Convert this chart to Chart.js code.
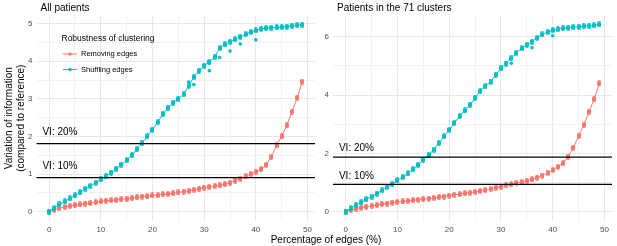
<!DOCTYPE html>
<html>
<head>
<meta charset="utf-8">
<script src="https://cdn.jsdelivr.net/npm/chart.js@4"></script>
<style>
  body { margin: 0; background: #fff; width: 617px; height: 246px; position: relative; overflow: hidden;
         font-family: "Liberation Sans", Arial, sans-serif; }
  #left { position: absolute; left: 0; top: 0; }
  #right { position: absolute; left: 318px; top: 0; }
  #xtitle { position: absolute; left: 0; width: 652px; top: 234px; text-align: center; font-size: 10px; color: #000; }
</style>
</head>
<body>
<canvas id="left" width="320" height="246"></canvas>
<canvas id="right" width="299" height="246"></canvas>
<div id="xtitle">Percentage of edges (%)</div>
<script>
// percentage of edges removed / shuffled
const percent = [0, 1, 2, 3, 4, 5, 6, 7, 8, 9, 10, 11, 12, 13, 14, 15, 16, 17, 18, 19,
  20, 21, 22, 23, 24, 25, 26, 27, 28, 29, 30, 31, 32, 33, 34, 35, 36, 37, 38, 39,
  40, 41, 42, 43, 44, 45, 46, 47, 48, 49];

// All patients
const removingAll = [0, 0.05, 0.09, 0.12, 0.15, 0.17, 0.19, 0.21, 0.23, 0.25,
  0.27, 0.29, 0.30, 0.31, 0.33, 0.34, 0.36, 0.38, 0.40, 0.41,
  0.43, 0.44, 0.46, 0.47, 0.49, 0.51, 0.53, 0.55, 0.58, 0.61,
  0.64, 0.66, 0.68, 0.70, 0.73, 0.77, 0.82, 0.88, 0.94, 1.00,
  1.06, 1.13, 1.24, 1.46, 1.76, 2.00, 2.30, 2.66, 3.03, 3.46];
const shufflingAll = [0, 0.09, 0.19, 0.27, 0.35, 0.43, 0.51, 0.60, 0.68, 0.77,
  0.86, 0.94, 1.04, 1.14, 1.25, 1.37, 1.50, 1.66, 1.83, 2.00,
  2.18, 2.38, 2.60, 2.75, 2.90, 3.00, 3.12, 3.35, 3.58, 3.75,
  3.88, 3.98, 4.12, 4.35, 4.45, 4.52, 4.58, 4.65, 4.72, 4.78,
  4.82, 4.86, 4.88, 4.89, 4.90, 4.91, 4.92, 4.94, 4.96, 4.97];
// a few scattered replicate runs
const shufflingAllExtraX = [27, 28, 31, 33, 35, 37, 40];
const shufflingAllExtraY = [3.45, 3.38, 3.75, 4.10, 4.27, 4.46, 4.57];

// Patients in the 71 clusters
const removingClusters = [0, 0.06, 0.10, 0.14, 0.17, 0.20, 0.23, 0.26, 0.28, 0.31,
  0.33, 0.35, 0.37, 0.39, 0.41, 0.43, 0.45, 0.47, 0.50, 0.52,
  0.55, 0.58, 0.60, 0.63, 0.65, 0.68, 0.71, 0.74, 0.78, 0.82,
  0.86, 0.90, 0.94, 0.98, 1.02, 1.06, 1.11, 1.17, 1.24, 1.33,
  1.43, 1.54, 1.66, 1.89, 2.20, 2.60, 2.97, 3.43, 3.86, 4.40];
const shufflingClusters = [0, 0.12, 0.22, 0.32, 0.42, 0.52, 0.62, 0.73, 0.84, 0.95,
  1.07, 1.19, 1.31, 1.45, 1.60, 1.78, 1.95, 2.12, 2.35, 2.58,
  2.80, 3.04, 3.28, 3.47, 3.66, 3.90, 4.14, 4.30, 4.46, 4.69,
  4.92, 5.08, 5.26, 5.44, 5.60, 5.72, 5.83, 5.96, 6.08, 6.16,
  6.22, 6.26, 6.29, 6.31, 6.33, 6.34, 6.36, 6.37, 6.39, 6.42];
const shufflingClustersExtraX = [32, 36, 40];
const shufflingClustersExtraY = [5.09, 5.62, 6.03];

// reference lines
const thresholdLabels = ["VI: 10%", "VI: 20%"];
const thresholdsAll = [0.905, 1.81];
const thresholdsClusters = [0.935, 1.87];

const xTicks = [0, 10, 20, 30, 40, 50];
const yTicksAll = [0, 1, 2, 3, 4, 5];
const yTicksClusters = [0, 2, 4, 6];

const RED = "#F8766D";
const TEAL = "#00BFC4";
const FONT = "'Liberation Sans', Arial, sans-serif";

// small vertical pill: looks like stacked replicate points
const pill = (color) => {
  const c = document.createElement("canvas");
  c.width = 4; c.height = 6;
  const g = c.getContext("2d");
  g.fillStyle = color;
  g.beginPath();
  g.roundRect(0, 0, 4, 6, 2);
  g.fill();
  return c;
};

const toPoints = (xs, ys) => xs.map((x, i) => ({ x: x, y: ys[i] }));

// minor grid halfway between major ticks
const withMinor = (major) => {
  const out = [];
  const step = major[1] - major[0];
  major.forEach((v, i) => {
    out.push({ value: v, major: true });
    if (i < major.length - 1) out.push({ value: v + step / 2, major: false });
  });
  return out;
};

const makeChart = (id, cfg) => {
  const ctx = document.getElementById(id).getContext("2d");

  const decor = {
    id: "decor",
    afterDatasetsDraw(chart) {
      const c = chart.ctx;
      const xs = chart.scales.x, ys = chart.scales.y;
      const area = chart.chartArea;
      c.save();
      cfg.thresholds.forEach((v, i) => {
        const y = ys.getPixelForValue(v);
        c.strokeStyle = "#000";
        c.lineWidth = 1.2;
        c.beginPath();
        c.moveTo(area.left, y);
        c.lineTo(area.right, y);
        c.stroke();
        c.fillStyle = "#000";
        c.font = "10px " + FONT;
        c.textAlign = "left";
        c.textBaseline = "middle";
        c.fillText(thresholdLabels[i], xs.getPixelForValue(-1.3), ys.getPixelForValue(v + 0.29));
      });
      c.restore();
    },
    afterDraw(chart) {
      const c = chart.ctx;
      const area = chart.chartArea;
      c.save();
      c.fillStyle = "#000";
      c.font = "10px " + FONT;
      c.textAlign = "left";
      c.textBaseline = "alphabetic";
      c.fillText(cfg.title, area.left + 4, 10.5);
      if (cfg.legend) {
        c.font = "8.5px " + FONT;
        c.textBaseline = "middle";
        c.fillText("Robustness of clustering", 61.5, 38.5);
        [["Removing edges", RED, 54], ["Shuffling edges", TEAL, 69.5]].forEach(([label, col, y]) => {
          c.strokeStyle = col;
          c.lineWidth = 1;
          c.beginPath();
          c.moveTo(63, y);
          c.lineTo(77, y);
          c.stroke();
          c.fillStyle = col;
          c.beginPath();
          c.arc(70, y, 1.8, 0, Math.PI * 2);
          c.fill();
          c.fillStyle = "#000";
          c.font = "7.5px " + FONT;
          c.fillText(label, 81, y);
        });
      }
      c.restore();
    }
  };

  const gridOpts = {
    color: (c) => (c.tick && c.tick.major ? "#E8E8E8" : "#F2F2F2"),
    lineWidth: 1,
    drawTicks: false,
  };

  return new Chart(ctx, {
    type: "line",
    data: {
      datasets: [
        {
          label: "Shuffling edges",
          data: toPoints(percent, cfg.shuffling),
          borderColor: TEAL,
          backgroundColor: TEAL,
          borderWidth: 1,
          pointStyle: pill(TEAL),
          pointRadius: 2,
          tension: 0,
        },
        {
          type: "scatter",
          label: "Shuffling extra",
          data: toPoints(cfg.extraX, cfg.extraY),
          backgroundColor: TEAL,
          borderWidth: 0,
          pointStyle: "circle",
          pointRadius: 1.8,
          showLine: false,
        },
        {
          label: "Removing edges",
          data: toPoints(percent, cfg.removing),
          borderColor: RED,
          backgroundColor: RED,
          borderWidth: 1,
          pointStyle: pill(RED),
          pointRadius: 2,
          tension: 0,
        },
      ],
    },
    options: {
      responsive: false,
      animation: false,
      layout: { padding: cfg.padding },
      plugins: { legend: { display: false }, tooltip: { enabled: false } },
      scales: {
        x: {
          type: "linear",
          min: -2.45,
          max: 51.45,
          afterBuildTicks: (s) => { s.ticks = withMinor(xTicks); },
          afterFit: (s) => { s.height = 25; },
          grid: gridOpts,
          border: { display: false },
          ticks: {
            color: "#4D4D4D",
            font: { size: 8, family: FONT },
            padding: 4,
            maxRotation: 0,
            autoSkip: false,
            callback: function (v, i, ticks) { return ticks[i].major ? String(v) : ""; },
          },
        },
        y: {
          type: "linear",
          min: cfg.yMin,
          max: cfg.yMax,
          afterBuildTicks: (s) => { s.ticks = withMinor(cfg.yTicks); },
          afterFit: (s) => { s.width = cfg.yWidth; },
          grid: gridOpts,
          border: { display: false },
          title: cfg.yTitle
            ? { display: true, text: cfg.yTitle, color: "#000", font: { size: 10, family: FONT }, padding: { top: 3, bottom: 0 } }
            : { display: false },
          ticks: {
            color: "#4D4D4D",
            font: { size: 8, family: FONT },
            padding: 4,
            autoSkip: false,
            callback: function (v, i, ticks) { return ticks[i].major ? String(v) : ""; },
          },
        },
      },
    },
    plugins: [decor],
  });
};

makeChart("left", {
  title: "All patients",
  legend: true,
  removing: removingAll,
  shuffling: shufflingAll,
  extraX: shufflingAllExtraX,
  extraY: shufflingAllExtraY,
  thresholds: thresholdsAll,
  yMin: -0.25,
  yMax: 5.22,
  yTicks: yTicksAll,
  yWidth: 36.5,
  yTitle: ["Variation of information", "(compared to reference)"],
  padding: { top: 15.4, right: 1, left: 0, bottom: 0 },
});

makeChart("right", {
  title: "Patients in the 71 clusters",
  legend: false,
  removing: removingClusters,
  shuffling: shufflingClusters,
  extraX: shufflingClustersExtraX,
  extraY: shufflingClustersExtraY,
  thresholds: thresholdsClusters,
  yMin: -0.32,
  yMax: 6.72,
  yTicks: yTicksClusters,
  yWidth: 15,
  yTitle: null,
  padding: { top: 15.7, right: 2, left: 0, bottom: 0 },
});
</script>
</body>
</html>
